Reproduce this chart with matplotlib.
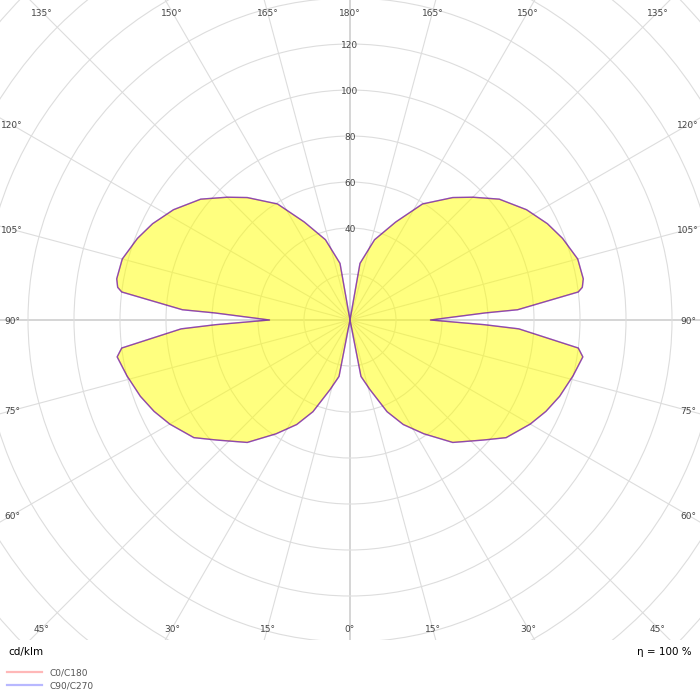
## Luminous intensity distribution (polar, cd/klm) ##
import numpy as np
import matplotlib
matplotlib.use('Agg')
import matplotlib.pyplot as plt
from matplotlib.lines import Line2D


## Data - gamma angle (deg) and intensity (cd/klm) ##
# C0/C180 and C90/C270 give the same curve, so both planes share the values
gamma = [0, 5, 11, 16, 22, 27, 33, 40, 48, 53, 60, 65, 70, 76, 81, 83, 87, 88, 90,
         93, 93.5, 97, 98, 100, 105, 111, 116, 122, 129, 135, 140, 148, 155, 163, 170, 175, 180]
i_c0_c180 = [0, 0, 25, 31.5, 43, 51, 59, 69.5, 78, 85, 90.5, 94, 97, 100, 102.5, 100, 73.5, 58.5, 35,
             59, 73, 100, 102, 103, 102.5, 99, 95.5, 90.5, 83.5, 75.5, 69.5, 59.5, 47, 36.5, 25, 0, 0]
i_c90_c270 = list(i_c0_c180)

ring_values = [20, 40, 60, 80, 100, 120, 140, 160, 180, 200, 220]
ring_labels = [40, 60, 80, 100, 120]
angle_labels = [0, 15, 30, 45, 60, 75, 90, 105, 120, 135, 150, 165, 180]
efficiency = 100

r_max = 220
px_per_unit = 2.3


def closed_curve(values):
    # left half (C180 / C270) then right half (C0 / C90)
    g = np.array(gamma)
    v = np.array(values)
    theta = np.concatenate([-g[::-1], g[1:]])
    r = np.concatenate([v[::-1], v[1:]])
    return np.deg2rad(theta), r


fig = plt.figure(figsize=(7, 7), dpi=100)
fig.patch.set_facecolor('white')

# polar axes bigger than the figure, so the grid is clipped by the picture edge
rad_px = r_max * px_per_unit
cx, cy = 350, 700 - 320
ax = fig.add_axes([(cx - rad_px) / 700, (cy - rad_px) / 700, 2 * rad_px / 700, 2 * rad_px / 700],
                  projection='polar')
ax.set_theta_zero_location('S')
ax.set_rlim(0, r_max)
ax.set_thetagrids(np.arange(0, 360, 15), labels=[''] * 24)
ax.set_rgrids(ring_values, labels=[''] * len(ring_values))
ax.grid(True, color='#dddddd', linewidth=0.8)
for i, gl in enumerate(ax.xaxis.get_gridlines()):
    if i % 6 == 0:
        gl.set_color('#d2d2d2')
        gl.set_linewidth(1.3)
ax.spines['polar'].set_visible(False)
ax.tick_params(length=0)

# curves
th, r = closed_curve(i_c0_c180)
ax.fill(th, r, color='yellow', alpha=0.5, linewidth=0, zorder=2)
ax.plot(th, r, color='red', alpha=0.45, linewidth=1.0, zorder=3)
th, r = closed_curve(i_c90_c270)
ax.plot(th, r, color='blue', alpha=0.45, linewidth=1.0, zorder=3)

# ring labels along the upper vertical
for v in ring_labels:
    ax.text(np.pi, v, str(v), ha='center', va='center_baseline', fontsize=6.5,
            color='#444444', zorder=4)

# angle labels near the picture edges
half_w, half_h = 338, 308
for g in angle_labels:
    s, c = abs(np.sin(np.deg2rad(g))), abs(np.cos(np.deg2rad(g)))
    d = min(half_w / s if s > 1e-9 else 1e9, half_h / c if c > 1e-9 else 1e9)
    sides = [1] if g in (0, 180) else [1, -1]
    for side in sides:
        ax.text(np.deg2rad(side * g), d / px_per_unit, '%d°' % g, ha='center',
                va='center_baseline', fontsize=6.5, color='#444444', zorder=4)

## Bottom strip with unit, efficiency and legend ##
ax2 = fig.add_axes([0, 0, 1, 60 / 700])
ax2.set_xlim(0, 700)
ax2.set_ylim(0, 60)
ax2.set_xticks([])
ax2.set_yticks([])
for sp in ax2.spines.values():
    sp.set_visible(False)
ax2.set_facecolor('white')

ax2.text(8, 49, 'cd/klm', ha='left', va='center_baseline', fontsize=7.5, color='black')
ax2.text(692, 49, 'η = %d %%' % efficiency, ha='right', va='center_baseline', fontsize=7.5,
         color='black')

handles = [Line2D([], [], color='red', alpha=0.28, linewidth=1.6, label='C0/C180'),
           Line2D([], [], color='blue', alpha=0.28, linewidth=1.6, label='C90/C270')]
ax2.legend(handles=handles, loc='upper left', bbox_to_anchor=(7 / 700, 32 / 60), frameon=False,
           fontsize=6.5, labelcolor='#555555', handlelength=3.9, handletextpad=0.8,
           labelspacing=0.45, borderpad=0, borderaxespad=0)

plt.savefig('out.png', dpi=100)
